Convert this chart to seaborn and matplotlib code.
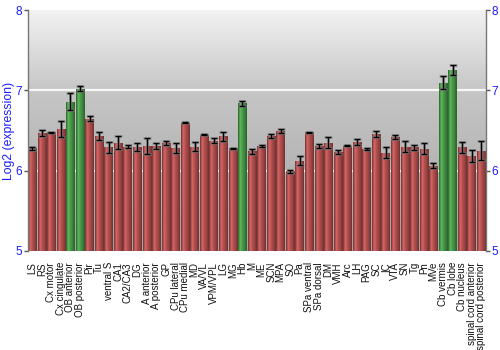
import numpy as np
import pandas as pd
import matplotlib
matplotlib.use("Agg")
import matplotlib.pyplot as plt
import seaborn as sns
from matplotlib.colors import LinearSegmentedColormap, to_rgb

regions = ["LS", "RS", "Cx motor", "Cx cingulate", "OB anterior", "OB posterior", "Pir", "Tu",
           "ventral S", "CA1", "CA2/CA3", "DG", "A anterior", "A posterior", "GP", "CPu lateral",
           "CPu medial", "MD", "VA/VL", "VPM/VPL", "LG", "MG", "Hb", "M", "ME", "SCN", "MPA", "SO",
           "Pa", "SPa ventral", "SPa dorsal", "DM", "VMH", "Arc", "LH", "PAG", "SC", "IC", "VTA",
           "SN", "Tg", "Pn", "MVe", "Cb vermis", "Cb lobe", "Cb nucleus", "spinal cord anterior",
           "spinal cord posterior"]
means = [6.28, 6.47, 6.48, 6.52, 6.86, 7.02, 6.65, 6.43,
         6.29, 6.35, 6.30, 6.30, 6.31, 6.31, 6.35, 6.28,
         6.60, 6.30, 6.45, 6.375, 6.43, 6.28, 6.84, 6.24, 6.31, 6.43, 6.49, 5.99,
         6.125, 6.48, 6.31, 6.35, 6.23, 6.31, 6.36, 6.27, 6.46, 6.225, 6.425,
         6.30, 6.29, 6.275, 6.06, 7.095, 7.255, 6.29, 6.18,
         6.25]
errors = [0.017, 0.035, 0.005, 0.10, 0.105, 0.03, 0.035, 0.05,
          0.07, 0.08, 0.02, 0.05, 0.10, 0.035, 0.025, 0.06,
          0.005, 0.06, 0.01, 0.03, 0.055, 0.005, 0.03, 0.03, 0.015, 0.025, 0.025, 0.02,
          0.06, 0.005, 0.025, 0.07, 0.025, 0.005, 0.035, 0.01, 0.035, 0.065, 0.025,
          0.07, 0.03, 0.065, 0.03, 0.08, 0.06, 0.065, 0.075,
          0.12]
highlight = ["OB anterior", "OB posterior", "Hb", "Cb vermis", "Cb lobe"]

df = pd.DataFrame({
    "region": regions,
    "log2": means,
    "err": errors,
    "group": ["high" if r in highlight else "base" for r in regions],
})
palette = {"base": "#c43e3e", "high": "#3aa63a"}

sns.set_theme(style="white")
plt.rcParams['font.family'] = ['Liberation Sans', 'DejaVu Sans']

fig = plt.figure(figsize=(5, 3.5), dpi=100)
ax = fig.add_axes([0.055, 0.283, 0.917, 0.688])

# background gradient
bg = LinearSegmentedColormap.from_list("bg", ["#a4a4a4", "#b4b4b4", "#c6c6c6", "#f2f2f2"])
grad = np.linspace(0, 1, 256).reshape(-1, 1)
ax.imshow(grad, cmap=bg, origin="lower", extent=[-0.5, len(regions) - 0.5, 5, 8],
          aspect="auto", zorder=0)
for yv in (6, 7):
    ax.axhline(yv, color="white", lw=1.6, alpha=0.85, zorder=0.5)

sns.barplot(data=df, x="region", y="log2", hue="group", palette=palette, order=regions,
            dodge=False, width=0.9, legend=False, errorbar=None, ax=ax, zorder=2,
            linewidth=0)

# cylinder-like shading of each bar
for p in list(ax.patches):
    if p.get_height() <= 0:
        continue
    base = np.array(to_rgb(p.get_facecolor()))
    dark = base * 0.62
    light = np.clip(base * 1.12 + 0.06, 0, 1)
    cm = LinearSegmentedColormap.from_list("c", [dark, light, base, base * 0.85, dark])
    x0 = p.get_x()
    w = p.get_width()
    im = ax.imshow(np.linspace(0, 1, 64).reshape(1, -1), cmap=cm, aspect="auto",
                   extent=[x0, x0 + w, 5, p.get_height()], zorder=2.5)
    im.set_clip_path(p)

x = np.arange(len(regions))
ax.errorbar(x, means, yerr=errors, fmt="none", ecolor="#888888", elinewidth=2.2,
            capsize=2.6, capthick=2.2, zorder=3, alpha=0.6)
ax.errorbar(x, means, yerr=errors, fmt="none", ecolor="black", elinewidth=1,
            capsize=2.2, capthick=1, zorder=4)

ax.set_xlim(-0.5, len(regions) - 0.5)
ax.set_ylim(5, 8)
ax.set_yticks([5, 6, 7, 8])
ax.set_xlabel("")
ax.set_ylabel("Log2 (expression)", color="#1a1aff", fontsize=8.8)
ax.yaxis.set_label_coords(-0.027, 0.5)
ax.tick_params(axis="y", which="both", left=True, right=True, labelleft=True, labelright=True,
               colors="#555555", labelcolor="#1a1aff", labelsize=8.5, length=3, width=1,
               direction="out", pad=1)
ax.tick_params(axis="x", bottom=False, labelsize=7.0, labelcolor="#111111", pad=2)
plt.setp(ax.get_xticklabels(), rotation=90)
for s in ("top", "bottom"):
    ax.spines[s].set_visible(False)
for s in ("left", "right"):
    ax.spines[s].set_visible(True)
    ax.spines[s].set_color("#777777")
    ax.spines[s].set_linewidth(1)

fig.savefig("out.png", dpi=100)
